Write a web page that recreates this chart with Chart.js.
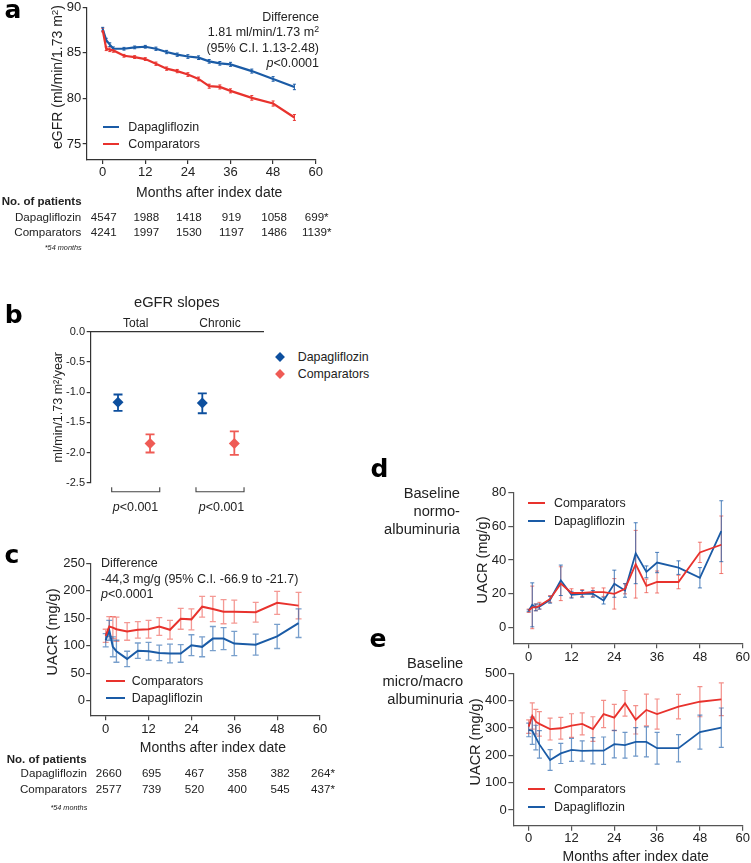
<!DOCTYPE html>
<html>
<head>
<meta charset="utf-8">
<title>eGFR and UACR over time</title>
<script src="https://cdn.jsdelivr.net/npm/chart.js@4.4.1/dist/chart.umd.min.js"></script>
<style>
  html, body { margin: 0; padding: 0; background: #fff; overflow: hidden; }
  body { position: relative; width: 751px; height: 863px; font-family: "Liberation Sans", Arial, sans-serif; color: #222; }
  canvas { position: absolute; }
  .t { position: absolute; white-space: nowrap; line-height: 1; transform: translateY(-50%); }
  .r { transform: translate(-100%, -50%); text-align: right; }
  .m { transform: translate(-50%, -50%); text-align: center; }
  .yt { position: absolute; white-space: nowrap; line-height: 1; transform: translate(-50%, -50%) rotate(-90deg); }
  .panel { position: absolute; font: bold 25px "DejaVu Sans", sans-serif; line-height: 1; color: #000; }
  .ln { position: absolute; height: 2px; }
  .dm { position: absolute; width: 7px; height: 7px; transform: translate(-50%, -50%) rotate(45deg); }
  sup { font-size: 0.7em; line-height: 0; vertical-align: 0.45em; }
  .note { font-size: 12.5px; }
  .leg { font-size: 12.4px; }
  .hd { font-weight: bold; font-size: 11.5px; }
  .row { font-size: 11.6px; }
  .foot { font-size: 7.3px; font-style: italic; }
  .side { font-size: 14.7px; }
  .ax { font-size: 14px; }
  .ay { font-size: 14.5px; }
</style>
</head>
<body>

<canvas id="chartA" width="340" height="200" style="left:0;top:0"></canvas>
<canvas id="chartB" width="275" height="220" style="left:0;top:294px"></canvas>
<canvas id="chartC" width="340" height="200" style="left:0;top:555px"></canvas>
<canvas id="chartD" width="366" height="185" style="left:385px;top:480px"></canvas>
<canvas id="chartE" width="366" height="204" style="left:385px;top:660px"></canvas>

<!-- panel letters -->
<div class="panel" style="left:4.5px;top:-2.9px">a</div>
<div class="panel" style="left:4.7px;top:301.5px">b</div>
<div class="panel" style="left:4.5px;top:542px">c</div>
<div class="panel" style="left:370.5px;top:455.5px">d</div>
<div class="panel" style="left:369.5px;top:625.5px">e</div>

<!-- axis titles -->
<div class="yt ax" style="left:57px;top:77px">eGFR (ml/min/1.73 m<sup>2</sup>)</div>
<div class="t m ax" style="left:209.2px;top:191.7px">Months after index date</div>
<div class="yt ay" style="left:52.3px;top:632px">UACR (mg/g)</div>
<div class="t m ax" style="left:212.9px;top:746.7px">Months after index date</div>
<div class="yt ay" style="left:481.7px;top:560px">UACR (mg/g)</div>
<div class="yt ay" style="left:475px;top:741.7px">UACR (mg/g)</div>
<div class="t m ax" style="left:635.7px;top:855.6px">Months after index date</div>

<!-- panel a notes -->
<div class="t r note" style="left:319px;top:17px">Difference</div>
<div class="t r note" style="left:319px;top:32.3px">1.81 ml/min/1.73 m<sup>2</sup></div>
<div class="t r note" style="left:319px;top:47.7px">(95% C.I. 1.13-2.48)</div>
<div class="t r note" style="left:319px;top:62.7px"><i>p</i>&lt;0.0001</div>
<div class="ln" style="left:102.7px;top:126.3px;width:16px;background:#1a5ba6"></div>
<div class="t leg" style="left:128.3px;top:127.3px">Dapagliflozin</div>
<div class="ln" style="left:102.7px;top:143px;width:16px;background:#e8322d"></div>
<div class="t leg" style="left:128.3px;top:144px">Comparators</div>
<div class="t hd" style="left:1.7px;top:202px">No. of patients</div>
<div class="t r row" style="left:81.3px;top:216.7px">Dapagliflozin</div>
<div class="t r row" style="left:81.3px;top:231.7px">Comparators</div>
<div class="t r foot" style="left:81.7px;top:248.3px">*54 months</div>

<!-- panel b notes -->
<div class="dm" style="left:280px;top:356.7px;background:#0d4f9e"></div>
<div class="t leg" style="left:297.7px;top:356.7px">Dapagliflozin</div>
<div class="dm" style="left:280px;top:374.3px;background:#ef5b55"></div>
<div class="t leg" style="left:297.7px;top:374.3px">Comparators</div>
<div class="t m note" style="left:135.5px;top:506.7px"><i>p</i>&lt;0.001</div>
<div class="t m note" style="left:221.5px;top:506.7px"><i>p</i>&lt;0.001</div>

<!-- panel c notes -->
<div class="t note" style="left:101px;top:563.3px">Difference</div>
<div class="t note" style="left:101px;top:579px">-44,3 mg/g (95% C.I. -66.9 to -21.7)</div>
<div class="t note" style="left:101px;top:594.3px"><i>p</i>&lt;0.0001</div>
<div class="ln" style="left:106px;top:679.7px;width:19px;background:#e8322d"></div>
<div class="t leg" style="left:131.7px;top:680.7px">Comparators</div>
<div class="ln" style="left:106px;top:696.7px;width:19px;background:#1a5ba6"></div>
<div class="t leg" style="left:131.7px;top:697.7px">Dapagliflozin</div>
<div class="t hd" style="left:6.7px;top:760px">No. of patients</div>
<div class="t r row" style="left:87px;top:773.3px">Dapagliflozin</div>
<div class="t r row" style="left:87px;top:788.7px">Comparators</div>
<div class="t r foot" style="left:87.3px;top:807.7px">*54 months</div>

<!-- panel d notes -->
<div class="t r side" style="left:460px;top:493px">Baseline</div>
<div class="t r side" style="left:460px;top:511px">normo-</div>
<div class="t r side" style="left:460px;top:528.5px">albuminuria</div>
<div class="ln" style="left:528.3px;top:501.7px;width:17px;background:#e8322d"></div>
<div class="t leg" style="left:554px;top:502.7px">Comparators</div>
<div class="ln" style="left:528.3px;top:519.7px;width:17px;background:#1a5ba6"></div>
<div class="t leg" style="left:554px;top:520.7px">Dapagliflozin</div>

<!-- panel e notes -->
<div class="t r side" style="left:463.3px;top:662.7px">Baseline</div>
<div class="t r side" style="left:463.3px;top:680.7px">micro/macro</div>
<div class="t r side" style="left:463.3px;top:699px">albuminuria</div>
<div class="ln" style="left:528.3px;top:788.3px;width:17px;background:#e8322d"></div>
<div class="t leg" style="left:554px;top:789.3px">Comparators</div>
<div class="ln" style="left:528.3px;top:806.3px;width:17px;background:#1a5ba6"></div>
<div class="t leg" style="left:554px;top:807.3px">Dapagliflozin</div>

<script>
// ---- data ----
const months = [0, 1, 2, 3, 6, 9, 12, 15, 18, 21, 24, 27, 30, 33, 36, 42, 48, 54];
const monthTicks = [0, 12, 24, 36, 48, 60];

// a: eGFR
const egfrTicks   = [75, 80, 85, 90];
const egfrDapa    = [87.6, 86.4, 85.9, 85.45, 85.45, 85.6, 85.67, 85.45, 85.09, 84.8, 84.6, 84.47, 84.07, 83.85, 83.74, 83.0, 82.14, 81.26];
const egfrDapaErr = [0.2, 0.2, 0.2, 0.2, 0.15, 0.15, 0.15, 0.18, 0.18, 0.18, 0.2, 0.2, 0.2, 0.2, 0.22, 0.22, 0.25, 0.3];
const egfrComp    = [87.5, 85.45, 85.34, 85.27, 84.68, 84.54, 84.32, 83.81, 83.27, 83.0, 82.62, 82.14, 81.34, 81.26, 80.83, 80.06, 79.44, 77.91];
const egfrCompErr = [0.2, 0.2, 0.2, 0.2, 0.15, 0.15, 0.15, 0.18, 0.18, 0.18, 0.2, 0.2, 0.22, 0.22, 0.22, 0.25, 0.28, 0.32];

// b: eGFR slopes
const slopeGroups  = ['Total', 'Chronic'];
const slopeDapa    = [-1.17, -1.18];
const slopeDapaLow = [-1.31, -1.35];
const slopeDapaHigh= [-1.04, -1.02];
const slopeComp    = [-1.85, -1.85];
const slopeCompLow = [-2.0, -2.04];
const slopeCompHigh= [-1.70, -1.65];

// c: UACR overall
const uacrTicks   = [0, 50, 100, 150, 200, 250];
const uacrComp    = [118, 135, 133, 130, 126, 129, 130, 135, 129, 149, 148, 171, 167, 162, 162, 161, 178, 173];
const uacrCompErr = [12, 18, 20, 22, 16, 15, 16, 16, 17, 19, 19, 19, 23, 22, 21, 18, 21, 24];
const uacrDapa    = [110, 128, 98, 90, 76, 91, 90, 87, 86, 86, 101, 98, 113, 113, 104, 102, 117, 141];
const uacrDapaErr = [12, 18, 18, 20, 14, 14, 16, 14, 17, 16, 19, 18, 22, 20, 22, 19, 22, 26];

// d: UACR, baseline normoalbuminuria
const normoTicks   = [0, 20, 40, 60, 80];
const normoComp    = [10, 12, 12, 13, 17, 26, 20.5, 20.5, 21, 21, 20, 23, 37.5, 24.7, 27, 27, 44.5, 49];
const normoCompErr = [1, 12.6, 2, 2, 2, 10, 2.5, 2, 2.5, 2.5, 9, 3, 20, 4, 6.5, 4, 6, 17];
const normoDapa    = [10, 13.5, 12, 12.5, 16.5, 28, 19.5, 20, 20, 16, 26, 22, 44, 33, 38.5, 35.5, 29.5, 57];
const normoDapaErr = [0.5, 13, 2, 1.5, 2, 9, 2, 2, 2, 2, 8, 4, 18, 3.5, 6, 4, 6, 18];

// e: UACR, baseline micro/macroalbuminuria
const microTicks   = [0, 100, 200, 300, 400, 500];
const microComp    = [305, 344, 323, 315, 296, 299, 309, 315, 296, 351, 338, 390, 330, 366, 351, 378, 396, 405];
const microCompErr = [25, 48, 45, 45, 40, 40, 43, 40, 45, 50, 48, 47, 52, 58, 55, 45, 55, 60];
const microDapa    = [293, 290, 265, 240, 183, 207, 220, 216, 217, 217, 241, 237, 249, 249, 226, 226, 285, 301];
const microDapaErr = [25, 50, 45, 50, 38, 37, 42, 37, 48, 50, 50, 47, 52, 55, 58, 50, 62, 72];

// patient counts
const egfrNDapa = ['4547', '1988', '1418', '919', '1058', '699*'];
const egfrNComp = ['4241', '1997', '1530', '1197', '1486', '1139*'];
const uacrNDapa = ['2660', '695', '467', '358', '382', '264*'];
const uacrNComp = ['2577', '739', '520', '400', '545', '437*'];

const BLUE = '#1a5ba6';
const RED = '#e8322d';

Chart.defaults.font.family = '"Liberation Sans", Arial, sans-serif';
Chart.defaults.color = '#222';

// vertical error bars, drawn with the chart's own scales
const errorBars = {
  id: 'errorBars',
  beforeDatasetsDraw(chart) {
    const ctx = chart.ctx;
    const y = chart.scales.y;
    chart.data.datasets.forEach((ds, i) => {
      if (!ds.errors && !ds.lower) return;
      const meta = chart.getDatasetMeta(i);
      ctx.save();
      ctx.strokeStyle = ds.errColor || ds.borderColor;
      ctx.lineWidth = ds.errWidth || 1;
      meta.data.forEach((pt, j) => {
        const v = ds.data[j].y;
        const lo = ds.lower ? ds.lower[j] : v - ds.errors[j];
        const hi = ds.upper ? ds.upper[j] : v + ds.errors[j];
        const y1 = y.getPixelForValue(lo), y2 = y.getPixelForValue(hi);
        const c = ds.capWidth || 0;
        ctx.beginPath();
        ctx.moveTo(pt.x, y1); ctx.lineTo(pt.x, y2);
        if (c) {
          ctx.moveTo(pt.x - c, y1); ctx.lineTo(pt.x + c, y1);
          ctx.moveTo(pt.x - c, y2); ctx.lineTo(pt.x + c, y2);
        }
        ctx.stroke();
      });
      ctx.restore();
    });
  }
};

// brackets under the slope groups
const brackets = {
  id: 'brackets',
  afterDraw(chart, args, opts) {
    const { ctx, chartArea } = chart;
    const x = chart.scales.x;
    const yb = chartArea.bottom + opts.gap;
    ctx.save();
    ctx.strokeStyle = opts.color;
    ctx.lineWidth = 1.1;
    ctx.beginPath();
    slopeGroups.forEach((g, i) => {
      const l = x.getPixelForValue(i + 1 - opts.half), r = x.getPixelForValue(i + 1 + opts.half);
      ctx.moveTo(l, yb - opts.tick); ctx.lineTo(l, yb); ctx.lineTo(r, yb); ctx.lineTo(r, yb - opts.tick);
    });
    ctx.stroke();
    ctx.restore();
  }
};

function noPad(s) { s.paddingTop = 0; s.paddingBottom = 0; s.paddingLeft = 0; s.paddingRight = 0; }

function series(label, values, errors, color, errColor, width, errWidth, cap) {
  return {
    label: label, data: months.map((m, i) => ({ x: m, y: values[i] })),
    borderColor: color, backgroundColor: color, borderWidth: width,
    pointRadius: 0, tension: 0, clip: false,
    errors: errors, errColor: errColor, errWidth: errWidth, capWidth: cap
  };
}

function axisGrid(cfg) {
  return { display: true, drawOnChartArea: false, drawTicks: true, tickLength: cfg.tickLen, color: cfg.axisColor, lineWidth: 1.2 };
}
function axisBorder(cfg) {
  return { display: true, color: cfg.axisColor, width: 1.2 };
}

function timeChart(id, cfg) {
  return new Chart(document.getElementById(id), {
    type: 'line',
    data: { datasets: cfg.datasets },
    options: {
      responsive: false, animation: false, devicePixelRatio: 1, events: [],
      layout: { padding: cfg.padding },
      plugins: { legend: { display: false }, tooltip: { enabled: false } },
      scales: {
        x: {
          type: 'linear', min: cfg.xMin, max: 60,
          grid: axisGrid(cfg), border: axisBorder(cfg),
          afterBuildTicks: s => { s.ticks = monthTicks.map(v => ({ value: v })); },
          ticks: { padding: cfg.xPad, font: { size: 13 }, maxRotation: 0, autoSkip: false },
          afterFit: s => { s.height = cfg.xHeight; noPad(s); }
        },
        y: {
          min: cfg.yMin, max: cfg.yMax,
          grid: axisGrid(cfg), border: axisBorder(cfg),
          afterBuildTicks: s => { s.ticks = cfg.yTicks.map(v => ({ value: v })); },
          ticks: { padding: cfg.yPad, font: { size: 13 }, autoSkip: false },
          afterFit: s => { s.width = cfg.yWidth; noPad(s); }
        }
      }
    },
    plugins: [errorBars]
  });
}

function patientRows(chart, canvasLeft, rowsY, rows, shift) {
  const x = chart.scales.x;
  rows.forEach((vals, r) => {
    vals.forEach((v, i) => {
      const d = document.createElement('div');
      d.className = 't m row';
      d.style.left = (canvasLeft + x.getPixelForValue(monthTicks[i]) + shift) + 'px';
      d.style.top = rowsY[r] + 'px';
      d.textContent = v;
      document.body.appendChild(d);
    });
  });
}

// ---- a ----
const chartA = timeChart('chartA', {
  datasets: [
    series('Comparators', egfrComp, egfrCompErr, RED, RED, 2.2, 1, 1.5),
    series('Dapagliflozin', egfrDapa, egfrDapaErr, BLUE, BLUE, 2.2, 1, 1.5)
  ],
  padding: { top: 7.3, right: 24.3, bottom: 0, left: 0 },
  tickLen: 4, axisColor: '#333',
  xMin: -4.507, xPad: 0.9, xHeight: 40,
  yMin: 73.244, yMax: 90, yTicks: egfrTicks, yPad: 1.4, yWidth: 86.7
});
patientRows(chartA, 0, [216.7, 231.7], [egfrNDapa, egfrNComp], 1);

// ---- b ----
const dapaShift = -0.21;
const compShift = 0.17;
new Chart(document.getElementById('chartB'), {
  type: 'line',
  data: {
    datasets: [
      {
        label: 'Dapagliflozin',
        data: slopeGroups.map((g, i) => ({ x: i + 1 + dapaShift, y: slopeDapa[i] })),
        showLine: false, pointStyle: 'rectRot', pointRadius: 5.5,
        backgroundColor: '#0d4f9e', borderColor: '#0d4f9e', borderWidth: 0,
        lower: slopeDapaLow, upper: slopeDapaHigh,
        errColor: '#0d4f9e', errWidth: 1.8, capWidth: 4.5, clip: false
      },
      {
        label: 'Comparators',
        data: slopeGroups.map((g, i) => ({ x: i + 1 + compShift, y: slopeComp[i] })),
        showLine: false, pointStyle: 'rectRot', pointRadius: 5.5,
        backgroundColor: '#ef5b55', borderColor: '#ef5b55', borderWidth: 0,
        lower: slopeCompLow, upper: slopeCompHigh,
        errColor: '#ef5b55', errWidth: 1.8, capWidth: 4.5, clip: false
      }
    ]
  },
  options: {
    responsive: false, animation: false, devicePixelRatio: 1, events: [],
    layout: { padding: { top: 0, right: 12, bottom: 31.3, left: 0 } },
    plugins: {
      legend: { display: false },
      tooltip: { enabled: false },
      brackets: { gap: 9, tick: 4.4, half: 0.285, color: '#444' }
    },
    scales: {
      x: {
        type: 'linear', position: 'top', min: 0.466, max: 2.51,
        afterBuildTicks: s => { s.ticks = slopeGroups.map((g, i) => ({ value: i + 1 })); },
        ticks: { callback: v => slopeGroups[v - 1], padding: 1.2, font: { size: 12 }, maxRotation: 0 },
        grid: { display: false, drawTicks: false },
        border: { display: true, color: '#333', width: 1.2 },
        title: { display: true, text: 'eGFR slopes', font: { size: 14.7 }, padding: { top: 0, bottom: 0 } },
        afterFit: s => { s.height = 37.7; noPad(s); }
      },
      y: {
        min: -2.5, max: 0,
        ticks: { stepSize: 0.5, padding: 1.7, font: { size: 11 }, callback: v => v.toFixed(1) },
        grid: { display: true, drawOnChartArea: false, drawTicks: true, tickLength: 4, color: '#333', lineWidth: 1.2 },
        border: { display: true, color: '#333', width: 1.2 },
        title: { display: true, text: 'ml/min/1.73 m²/year', font: { size: 12.5 }, padding: { top: 51.5, bottom: 0 } },
        afterFit: s => { s.width = 90.7; noPad(s); }
      }
    }
  },
  plugins: [errorBars, brackets]
});

// ---- c ----
const chartC = timeChart('chartC', {
  datasets: [
    series('Comparators', uacrComp, uacrCompErr, RED, 'rgba(235,70,60,0.55)', 2, 1.3, 3),
    series('Dapagliflozin', uacrDapa, uacrDapaErr, BLUE, 'rgba(30,95,170,0.6)', 2, 1.3, 3)
  ],
  padding: { top: 8.3, right: 20, bottom: 0, left: 0 },
  tickLen: 4.5, axisColor: '#444',
  xMin: -4.2, xPad: 1.3, xHeight: 39.3,
  yMin: -27.29, yMax: 250, yTicks: uacrTicks, yPad: 1.2, yWidth: 90.7
});
patientRows(chartC, 0, [773.3, 788.7], [uacrNDapa, uacrNComp], 3);

// ---- d ----
timeChart('chartD', {
  datasets: [
    series('Comparators', normoComp, normoCompErr, RED, 'rgba(235,70,60,0.7)', 1.8, 1, 2),
    series('Dapagliflozin', normoDapa, normoDapaErr, BLUE, 'rgba(30,95,170,0.8)', 1.8, 1, 2)
  ],
  padding: { top: 12.3, right: 8.3, bottom: 0, left: 0 },
  tickLen: 5, axisColor: '#555',
  xMin: -4.317, xPad: 1.2, xHeight: 21.7,
  yMin: -9.217, yMax: 80, yTicks: normoTicks, yPad: 2, yWidth: 128.3
});

// ---- e ----
timeChart('chartE', {
  datasets: [
    series('Comparators', microComp, microCompErr, RED, 'rgba(235,70,60,0.6)', 1.8, 1.2, 2.5),
    series('Dapagliflozin', microDapa, microDapaErr, BLUE, 'rgba(30,95,170,0.65)', 1.8, 1.2, 2.5)
  ],
  padding: { top: 13.3, right: 8.3, bottom: 0, left: 0 },
  tickLen: 5, axisColor: '#555',
  xMin: -4.317, xPad: 0, xHeight: 38.3,
  yMin: -57.42, yMax: 500, yTicks: microTicks, yPad: 1.6, yWidth: 128.3
});
</script>
</body>
</html>
